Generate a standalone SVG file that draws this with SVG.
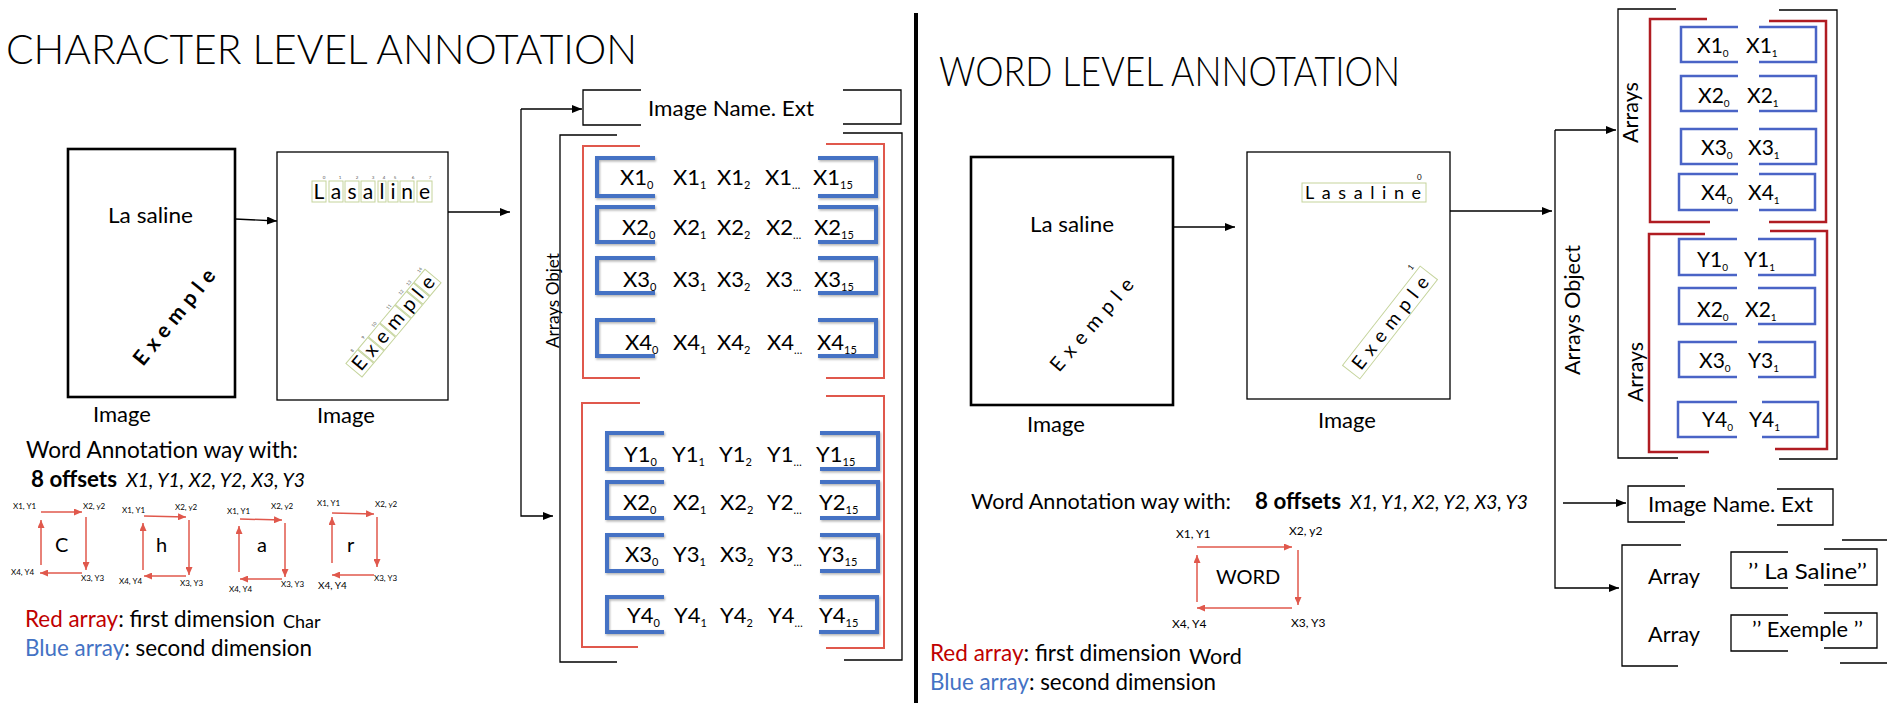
<svg xmlns="http://www.w3.org/2000/svg" width="1893" height="711" viewBox="0 0 1893 711">
<defs>
<style>
.t{font-family:Lato,"Liberation Sans",sans-serif;fill:#000}
.title{font-size:41px;font-weight:300}
.lbl{font-size:22px}
.cell{font-size:22px}
.sb{font-size:11px}
.wcell{font-size:21px}
.wsb{font-size:10px}
.sm{font-size:8px}
.tiny{font-size:4.5px;fill:#555}
.red{fill:#c00000}
.blue{fill:#4472c4}
.bk{fill:none;stroke:#000;stroke-width:1.3}
.bkt{fill:none;stroke:#000;stroke-width:2.6}
.rb{fill:none;stroke:#e0584c;stroke-width:2}
.drb{fill:none;stroke:#b01c22;stroke-width:2.5}
.bb{fill:none;stroke:#4472c4;stroke-width:4}
.wbb{fill:none;stroke:#4a64c6;stroke-width:2.5}
.gb{fill:none;stroke:#c5d49c;stroke-width:1}
.conn{fill:none;stroke:#000;stroke-width:1.3}
.ra{fill:none;stroke:#e0584c;stroke-width:1.5}
</style>
<marker id="ah" markerWidth="10" markerHeight="8" refX="10" refY="4" orient="auto" markerUnits="userSpaceOnUse"><path d="M0,0 L10,4 L0,8 z" fill="#000"/></marker>
<marker id="rah" markerWidth="8" markerHeight="7" refX="8" refY="3.5" orient="auto" markerUnits="userSpaceOnUse"><path d="M0,0 L8,3.5 L0,7 z" fill="#e0584c"/></marker>
<filter id="sh" x="-10%" y="-20%" width="120%" height="140%"><feDropShadow dx="1" dy="1.5" stdDeviation="1" flood-color="#000" flood-opacity="0.3"/></filter>
</defs>
<rect width="1893" height="711" fill="#fff"/>

<!-- divider -->
<line x1="916" y1="13" x2="916" y2="703" stroke="#000" stroke-width="4"/>

<!-- ============ CHARACTER LEVEL ============ -->
<g id="char-title"><text class="t title" x="6" y="64" textLength="631" lengthAdjust="spacingAndGlyphs">CHARACTER LEVEL ANNOTATION</text></g>

<g id="char-image1">
<rect x="68" y="149" width="167" height="248" class="bkt"/>
<text class="t lbl" x="108" y="223" textLength="85" lengthAdjust="spacingAndGlyphs">La saline</text>
<text class="t" font-size="21" font-weight="bold" transform="translate(143,367) rotate(-51)" textLength="117" lengthAdjust="spacing">Exemple</text>
<text class="t lbl" x="93" y="422">Image</text>
</g>

<g id="char-image2">
<rect x="277" y="152" width="171" height="248" class="bk"/>
<g class="gb">
<rect x="312" y="181" width="14" height="21"/><rect x="329" y="181" width="14" height="21"/><rect x="345" y="181" width="14" height="21"/><rect x="361" y="181" width="14" height="21"/><rect x="378" y="181" width="8" height="21"/><rect x="388" y="181" width="10" height="21"/><rect x="400" y="181" width="14" height="21"/><rect x="417" y="181" width="15" height="21"/>
</g>
<g class="t" font-size="21" text-anchor="middle">
<text x="319" y="199">L</text><text x="336" y="199">a</text><text x="352" y="199">s</text><text x="368" y="199">a</text><text x="382" y="199">l</text><text x="393" y="199">i</text><text x="407" y="199">n</text><text x="424.5" y="199">e</text>
</g>
<g class="t tiny" text-anchor="middle">
<text x="324" y="179">0</text><text x="340" y="179">1</text><text x="357" y="179">2</text><text x="373" y="179">3</text><text x="384" y="179">4</text><text x="395" y="179">5</text><text x="413" y="179">6</text><text x="430" y="179">7</text>
</g>
<g transform="translate(362,377) rotate(-50)">
<g class="gb">
<rect x="0" y="-21" width="18" height="21"/><rect x="19" y="-21" width="15" height="21"/><rect x="35" y="-21" width="17" height="21"/><rect x="53" y="-21" width="23" height="21"/><rect x="77" y="-21" width="17" height="21"/><rect x="95" y="-21" width="10" height="21"/><rect x="106" y="-21" width="17" height="21"/>
</g>
<g class="t" font-size="20" text-anchor="middle">
<text x="9" y="-4">E</text><text x="26.5" y="-4">x</text><text x="43.5" y="-4">e</text><text x="64.5" y="-4">m</text><text x="85.5" y="-4">p</text><text x="100" y="-4">l</text><text x="114.5" y="-4">e</text>
</g>
<g class="t tiny" text-anchor="middle">
<text x="14" y="-23">8</text><text x="31" y="-23">9</text><text x="48" y="-23">10</text><text x="71" y="-23">11</text><text x="90" y="-23">12</text><text x="102" y="-23">13</text><text x="119" y="-23">14</text>
</g>
</g>
<text class="t lbl" x="317" y="423">Image</text>
</g>

<g id="char-imagename">
<path class="bk" d="M641,90 H583 V125 H641 M843,90 H901 V124 H843"/>
<text class="t lbl" x="648" y="116" textLength="166" lengthAdjust="spacingAndGlyphs">Image Name. Ext</text>
</g>

<g id="char-arrays">
<path class="bk" d="M617,135 H560 V662 H617 M843,133 H902 V660 H844"/>
<text class="t" font-size="18" transform="translate(559,348) rotate(-90)" textLength="95" lengthAdjust="spacingAndGlyphs">Arrays Objet</text>
<path class="rb" d="M640,146 H583 V378 H640 M826,144 H884 V378 H826"/>
<path class="rb" d="M640,403 H582 V647 H638 M826,396 H884 V648 H826"/>
<g class="bb" filter="url(#sh)">
<path d="M655,158 H597 V196 H655 M818,158 H876 V196 H818"/>
<path d="M655,207 H597 V242 H655 M818,207 H876 V242 H818"/>
<path d="M655,258 H597 V293 H655 M818,258 H876 V293 H818"/>
<path d="M655,320 H597 V356 H655 M818,320 H876 V356 H818"/>
<path d="M664,433 H607 V469 H664 M820,433 H878 V469 H820"/>
<path d="M664,482 H607 V518 H664 M820,482 H878 V518 H820"/>
<path d="M664,535 H607 V571 H664 M820,535 H878 V571 H820"/>
<path d="M664,597 H607 V632 H664 M819,597 H877 V632 H819"/>
</g>
<g class="t cell">
<text x="620" y="185">X1<tspan class="sb" dy="4">0</tspan></text>
<text x="673" y="185">X1<tspan class="sb" dy="4">1</tspan></text>
<text x="717" y="185">X1<tspan class="sb" dy="4">2</tspan></text>
<text x="765" y="185">X1<tspan class="sb" dy="4">…</tspan></text>
<text x="813" y="185">X1<tspan class="sb" dy="4">15</tspan></text>
<text x="622" y="235">X2<tspan class="sb" dy="4">0</tspan></text>
<text x="673" y="235">X2<tspan class="sb" dy="4">1</tspan></text>
<text x="717" y="235">X2<tspan class="sb" dy="4">2</tspan></text>
<text x="766" y="235">X2<tspan class="sb" dy="4">…</tspan></text>
<text x="814" y="235">X2<tspan class="sb" dy="4">15</tspan></text>
<text x="623" y="287">X3<tspan class="sb" dy="4">0</tspan></text>
<text x="673" y="287">X3<tspan class="sb" dy="4">1</tspan></text>
<text x="717" y="287">X3<tspan class="sb" dy="4">2</tspan></text>
<text x="766" y="287">X3<tspan class="sb" dy="4">…</tspan></text>
<text x="814" y="287">X3<tspan class="sb" dy="4">15</tspan></text>
<text x="625" y="350">X4<tspan class="sb" dy="4">0</tspan></text>
<text x="673" y="350">X4<tspan class="sb" dy="4">1</tspan></text>
<text x="717" y="350">X4<tspan class="sb" dy="4">2</tspan></text>
<text x="767" y="350">X4<tspan class="sb" dy="4">…</tspan></text>
<text x="817" y="350">X4<tspan class="sb" dy="4">15</tspan></text>
<text x="624" y="462">Y1<tspan class="sb" dy="4">0</tspan></text>
<text x="672" y="462">Y1<tspan class="sb" dy="4">1</tspan></text>
<text x="719" y="462">Y1<tspan class="sb" dy="4">2</tspan></text>
<text x="767" y="462">Y1<tspan class="sb" dy="4">…</tspan></text>
<text x="816" y="462">Y1<tspan class="sb" dy="4">15</tspan></text>
<text x="623" y="510">X2<tspan class="sb" dy="4">0</tspan></text>
<text x="673" y="510">X2<tspan class="sb" dy="4">1</tspan></text>
<text x="720" y="510">X2<tspan class="sb" dy="4">2</tspan></text>
<text x="767" y="510">Y2<tspan class="sb" dy="4">…</tspan></text>
<text x="819" y="510">Y2<tspan class="sb" dy="4">15</tspan></text>
<text x="625" y="562">X3<tspan class="sb" dy="4">0</tspan></text>
<text x="673" y="562">Y3<tspan class="sb" dy="4">1</tspan></text>
<text x="720" y="562">X3<tspan class="sb" dy="4">2</tspan></text>
<text x="767" y="562">Y3<tspan class="sb" dy="4">…</tspan></text>
<text x="818" y="562">Y3<tspan class="sb" dy="4">15</tspan></text>
<text x="627" y="623">Y4<tspan class="sb" dy="4">0</tspan></text>
<text x="674" y="623">Y4<tspan class="sb" dy="4">1</tspan></text>
<text x="720" y="623">Y4<tspan class="sb" dy="4">2</tspan></text>
<text x="768" y="623">Y4<tspan class="sb" dy="4">…</tspan></text>
<text x="819" y="623">Y4<tspan class="sb" dy="4">15</tspan></text>
</g>
</g>

<g id="char-legend">
<text class="t" font-size="22.5" x="26" y="458" textLength="272" lengthAdjust="spacingAndGlyphs">Word Annotation way  with:</text>
<text class="t" font-size="22" font-weight="bold" x="31" y="487" textLength="86" lengthAdjust="spacingAndGlyphs">8 offsets</text>
<text class="t" font-size="19" font-style="italic" x="126" y="487" textLength="179" lengthAdjust="spacingAndGlyphs">X1, Y1, X2, Y2, X3, Y3</text>
<text class="t" font-size="22.5" x="25" y="627" textLength="250" lengthAdjust="spacingAndGlyphs"><tspan class="red">Red array</tspan>: first dimension</text>
<text class="t" font-size="18" x="283" y="628">Char</text>
<text class="t" font-size="22.5" x="25" y="656" textLength="287" lengthAdjust="spacingAndGlyphs"><tspan class="blue">Blue array</tspan>: second dimension</text>
</g>

<g id="char-box-C">
<path class="ra" marker-end="url(#rah)" d="M41,512 L82,512"/>
<path class="ra" marker-end="url(#rah)" d="M86,517 L86,570"/>
<path class="ra" marker-end="url(#rah)" d="M82,573 L40,573"/>
<path class="ra" marker-end="url(#rah)" d="M41,565 L41,520"/>
<text class="t sm" x="13" y="509">X1, Y1</text><text class="t sm" x="83" y="509">X2, y2</text>
<text class="t sm" x="11" y="575">X4, Y4</text><text class="t sm" x="81" y="581">X3, Y3</text>
<text class="t" font-size="20" x="55" y="552">C</text>
</g>
<g id="char-box-h">
<path class="ra" marker-end="url(#rah)" d="M144,516 L186,517"/>
<path class="ra" marker-end="url(#rah)" d="M189,520 L189,575"/>
<path class="ra" marker-end="url(#rah)" d="M186,576 L144,576"/>
<path class="ra" marker-end="url(#rah)" d="M143,570 L143,523"/>
<text class="t sm" x="122" y="513">X1, Y1</text><text class="t sm" x="175" y="510">X2, y2</text>
<text class="t sm" x="119" y="584">X4, Y4</text><text class="t sm" x="180" y="586">X3, Y3</text>
<text class="t" font-size="20" x="156" y="552">h</text>
</g>
<g id="char-box-a">
<path class="ra" marker-end="url(#rah)" d="M240,519 L282,520"/>
<path class="ra" marker-end="url(#rah)" d="M285,523 L285,577"/>
<path class="ra" marker-end="url(#rah)" d="M282,579 L240,579"/>
<path class="ra" marker-end="url(#rah)" d="M239,572 L239,526"/>
<text class="t sm" x="227" y="514">X1, Y1</text><text class="t sm" x="271" y="509">X2, y2</text>
<text class="t sm" x="229" y="592">X4, Y4</text><text class="t sm" x="281" y="587">X3, Y3</text>
<text class="t" font-size="20" x="257" y="552">a</text>
</g>
<g id="char-box-r">
<path class="ra" marker-end="url(#rah)" d="M332,513 L374,514"/>
<path class="ra" marker-end="url(#rah)" d="M377,517 L377,567"/>
<path class="ra" marker-end="url(#rah)" d="M374,575 L332,575"/>
<path class="ra" marker-end="url(#rah)" d="M332,563 L332,517"/>
<text class="t sm" x="317" y="506">X1, Y1</text><text class="t sm" x="375" y="507">X2, y2</text>
<text class="t" font-size="10" x="318" y="589">X4, Y4</text><text class="t sm" x="374" y="581">X3, Y3</text>
<text class="t" font-size="20" x="347" y="552">r</text>
</g>

<!-- ============ WORD LEVEL ============ -->
<g id="word-title"><text class="t title" x="939" y="86" textLength="461" lengthAdjust="spacingAndGlyphs">WORD LEVEL ANNOTATION</text></g>

<g id="word-image1">
<rect x="971" y="157" width="202" height="248" class="bkt"/>
<text class="t lbl" x="1030" y="232" textLength="84" lengthAdjust="spacingAndGlyphs">La saline</text>
<text class="t" font-size="20" transform="translate(1059,373) rotate(-49.2)" textLength="116" lengthAdjust="spacing">Exemple</text>
<text class="t lbl" x="1027" y="432">Image</text>
</g>

<g id="word-image2">
<rect x="1247" y="152" width="203" height="247" class="bk"/>
<rect x="1302" y="183" width="124" height="19" class="gb"/>
<text class="t" font-size="18" x="1305" y="199" textLength="116" lengthAdjust="spacing">Lasaline</text>
<text class="t sm" x="1417" y="180">0</text>
<g transform="translate(1390,322.5) rotate(-52)">
<rect x="-63" y="-11" width="126" height="22" class="gb"/>
<text class="t" font-size="19" x="-56" y="7" textLength="112" lengthAdjust="spacing">Exemple</text>
<text class="t sm" x="54" y="-15">1</text>
</g>
<text class="t lbl" x="1318" y="428">Image</text>
</g>

<g id="word-arrays">
<path class="bk" d="M1676,9 H1618 V458 H1678 M1779,10 H1837 V459 H1779"/>
<text class="t" font-size="22" transform="translate(1580,375) rotate(-90)" textLength="130" lengthAdjust="spacingAndGlyphs">Arrays Object</text>
<text class="t" font-size="21" transform="translate(1638,143) rotate(-90)" textLength="61" lengthAdjust="spacingAndGlyphs">Arrays</text>
<text class="t" font-size="21" transform="translate(1643,402) rotate(-90)" textLength="60" lengthAdjust="spacingAndGlyphs">Arrays</text>
<path class="drb" d="M1707,19 H1650 V222 H1710 M1769,21 H1826 V222 H1769"/>
<path class="drb" d="M1705,234 H1649 V452 H1709 M1770,231 H1827 V449 H1775"/>
<g class="wbb">
<path d="M1738,27 H1681 V62 H1738 M1759,27 H1816 V62 H1759"/>
<path d="M1738,76 H1681 V111 H1738 M1759,76 H1816 V111 H1759"/>
<path d="M1738,129 H1681 V164 H1738 M1759,129 H1816 V164 H1759"/>
<path d="M1738,174 H1679 V210 H1738 M1759,174 H1815 V210 H1759"/>
<path d="M1737,239 H1679 V275 H1737 M1758,239 H1815 V275 H1758"/>
<path d="M1737,288 H1679 V324 H1737 M1758,288 H1815 V324 H1758"/>
<path d="M1737,342 H1679 V377 H1737 M1758,342 H1815 V377 H1758"/>
<path d="M1737,402 H1678 V437 H1737 M1762,402 H1818 V437 H1762"/>
</g>
<g class="t wcell">
<text x="1697" y="53">X1<tspan class="wsb" dy="4">0</tspan></text>
<text x="1746" y="53">X1<tspan class="wsb" dy="4">1</tspan></text>
<text x="1698" y="103">X2<tspan class="wsb" dy="4">0</tspan></text>
<text x="1747" y="103">X2<tspan class="wsb" dy="4">1</tspan></text>
<text x="1701" y="155">X3<tspan class="wsb" dy="4">0</tspan></text>
<text x="1748" y="155">X3<tspan class="wsb" dy="4">1</tspan></text>
<text x="1701" y="200">X4<tspan class="wsb" dy="4">0</tspan></text>
<text x="1748" y="200">X4<tspan class="wsb" dy="4">1</tspan></text>
<text x="1697" y="267">Y1<tspan class="wsb" dy="4">0</tspan></text>
<text x="1744" y="267">Y1<tspan class="wsb" dy="4">1</tspan></text>
<text x="1697" y="317">X2<tspan class="wsb" dy="4">0</tspan></text>
<text x="1745" y="317">X2<tspan class="wsb" dy="4">1</tspan></text>
<text x="1699" y="368">X3<tspan class="wsb" dy="4">0</tspan></text>
<text x="1748" y="368">Y3<tspan class="wsb" dy="4">1</tspan></text>
<text x="1702" y="427">Y4<tspan class="wsb" dy="4">0</tspan></text>
<text x="1749" y="427">Y4<tspan class="wsb" dy="4">1</tspan></text>
</g>
</g>

<g id="word-imagename">
<path class="bk" d="M1685,486 H1628 V522 H1685 M1777,489 H1833 V525 H1777"/>
<text class="t lbl" x="1648" y="512" textLength="165" lengthAdjust="spacingAndGlyphs">Image Name. Ext</text>
</g>

<g id="word-array-list">
<path class="bk" d="M1681,545 H1622 V666 H1678 M1842,540 H1887 M1840,663 H1887"/>
<text class="t lbl" x="1648" y="584" textLength="52" lengthAdjust="spacingAndGlyphs">Array</text>
<text class="t lbl" x="1648" y="642" textLength="52" lengthAdjust="spacingAndGlyphs">Array</text>
<path class="bk" d="M1788,552 H1731 V588 H1788 M1824,549 H1877 V585 H1824"/>
<text class="t" font-size="21" x="1748" y="579" textLength="119" lengthAdjust="spacingAndGlyphs">’’ La Saline’’</text>
<path class="bk" d="M1788,615 H1731 V651 H1788 M1824,613 H1877 V648 H1824"/>
<text class="t" font-size="21" x="1752" y="637" textLength="111" lengthAdjust="spacingAndGlyphs">’’ Exemple ’’</text>
</g>

<g id="word-legend">
<text class="t" font-size="21.5" x="971" y="509" textLength="260" lengthAdjust="spacingAndGlyphs">Word Annotation way  with:</text>
<text class="t" font-size="22" font-weight="bold" x="1255" y="509" textLength="86" lengthAdjust="spacingAndGlyphs">8 offsets</text>
<text class="t" font-size="19" font-style="italic" x="1350" y="509" textLength="178" lengthAdjust="spacingAndGlyphs">X1, Y1, X2, Y2, X3, Y3</text>
<text class="t" font-size="22.5" x="930" y="661" textLength="251" lengthAdjust="spacingAndGlyphs"><tspan class="red">Red array</tspan>: first dimension</text>
<text class="t" font-size="21.5" x="1189" y="664">Word</text>
<text class="t" font-size="22.5" x="930" y="690" textLength="286" lengthAdjust="spacingAndGlyphs"><tspan class="blue">Blue array</tspan>: second dimension</text>
</g>

<g id="word-box">
<path class="ra" marker-end="url(#rah)" d="M1197,547 L1292,547"/>
<path class="ra" marker-end="url(#rah)" d="M1298,550 L1298,605"/>
<path class="ra" marker-end="url(#rah)" d="M1292,608 L1197,608"/>
<path class="ra" marker-end="url(#rah)" d="M1197,602 L1197,555"/>
<text class="t" font-size="12" x="1176" y="538">X1, Y1</text>
<text class="t" font-size="12" x="1289" y="535">X2, y2</text>
<text class="t" font-size="12" x="1172" y="628">X4, Y4</text>
<text class="t" font-size="12" x="1291" y="627">X3, Y3</text>
<text class="t" font-size="20" x="1216" y="584">WORD</text>
</g>

<!-- ============ CONNECTORS ============ -->
<g id="connectors" class="conn">
<path marker-end="url(#ah)" d="M235,219 L277,221"/>
<path marker-end="url(#ah)" d="M448,212 H510"/>
<path marker-end="url(#ah)" d="M521,109 H582"/>
<path marker-end="url(#ah)" d="M521,109 V516 H553"/>
<path marker-end="url(#ah)" d="M1173,227 H1235"/>
<path marker-end="url(#ah)" d="M1450,211 H1552"/>
<path marker-end="url(#ah)" d="M1555,130 H1616"/>
<path marker-end="url(#ah)" d="M1555,130 V588 H1619"/>
<path marker-end="url(#ah)" d="M1563,503 H1626"/>
</g>
</svg>
